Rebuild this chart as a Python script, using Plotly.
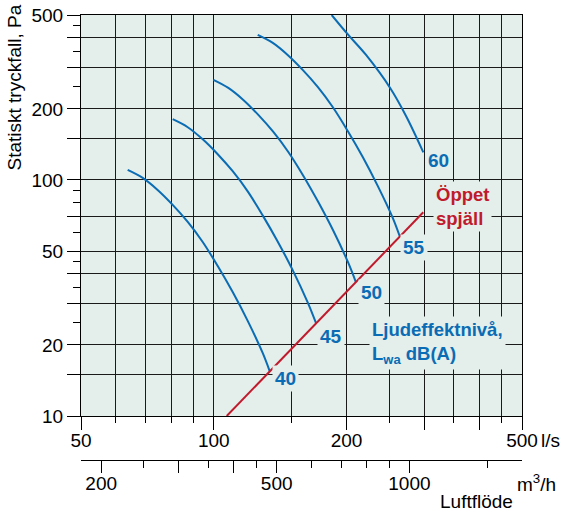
import plotly.graph_objects as go
import math

# ---- data (flow l/s, static pressure Pa) ----
c40_x = [63.8, 69.0, 74.6, 80.7, 87.3, 94.4, 102.1, 110.4, 119.4, 129.1, 133.9]
c40_y = [110.3, 102.0, 90.7, 78.4, 66.4, 54.6, 43.2, 33.5, 25.3, 18.5, 15.5]
c45_x = [80.7, 87.3, 94.4, 102.1, 110.4, 119.4, 129.1, 139.6, 151.0, 163.3, 170.5]
c45_y = [180.9, 167.3, 148.7, 128.6, 108.9, 89.5, 70.8, 54.9, 41.5, 30.3, 24.8]
c50_x = [99.8, 107.9, 116.7, 126.2, 136.5, 147.6, 159.7, 172.6, 186.7, 201.9, 209.9]
c50_y = [265.4, 245.4, 218.3, 188.7, 159.8, 131.4, 104.0, 80.6, 60.9, 44.5, 37.0]
c55_x = [125.8, 136.1, 147.1, 159.1, 172.1, 186.1, 201.3, 217.7, 235.4, 254.6, 264.2]
c55_y = [411.7, 380.8, 338.6, 292.7, 247.9, 203.8, 161.3, 125.1, 94.4, 69.1, 57.6]
c60_x = [185.1, 201.9, 221.5, 251.4, 272.9, 298.7]
c60_y = [500.0, 411.6, 338.5, 244.7, 186.7, 131.0]
open_x = [107.0, 298.6]
open_y = [10.0, 73.0]

curve_names = ["40", "45", "50", "55", "60"]

# axis ticks
x_labeled = [50, 100, 200, 500]
x_labeled_text = ["50", "100", "200", "500"]
x_long_unlabeled = [300, 400]
x_minor = [60, 70, 80, 90, 150, 250, 350, 450]
y_labeled = [10, 20, 50, 100, 200, 500]
y_labeled_text = ["10", "20", "50", "100", "200", "500"]
y_long_unlabeled = [15, 30, 40, 70, 150, 300, 400]
y_minor = [25, 35, 45, 60, 80, 90, 250, 350, 450]
m3h_labeled = [200, 500, 1000]
m3h_labeled_text = ["200", "500", "1000"]
m3h_long_unlabeled = [300, 400]
m3h_minor = [250, 350, 450, 600, 700, 800, 900, 1500]

BLUE = "#0a6cb4"
RED = "#c01a2c"
BG = "#e4eeea"
GRID = "#1a1a1a"
FONT = "Liberation Sans, Arial, sans-serif"

XR = [math.log10(50), math.log10(500)]
YR = [1, math.log10(500)]
MR = [math.log10(180), math.log10(1800)]

fig = go.Figure()
for xs, ys in [(c40_x, c40_y), (c45_x, c45_y), (c50_x, c50_y), (c55_x, c55_y), (c60_x, c60_y)]:
    fig.add_trace(go.Scatter(x=xs, y=ys, mode="lines",
                             line=dict(color=BLUE, width=2, shape="spline", smoothing=1.0),
                             showlegend=False, hoverinfo="skip"))
fig.add_trace(go.Scatter(x=open_x, y=open_y, mode="lines", line=dict(color=RED, width=2),
                         showlegend=False, hoverinfo="skip"))
# invisible traces that activate the helper axes
fig.add_trace(go.Scatter(x=[180, 1800], y=[10, 10], xaxis="x2", yaxis="y", mode="markers",
                         marker=dict(opacity=0), showlegend=False, hoverinfo="skip"))
fig.add_trace(go.Scatter(x=[50, 500], y=[10, 10], xaxis="x3", yaxis="y3", mode="markers",
                         marker=dict(opacity=0), showlegend=False, hoverinfo="skip"))
fig.add_trace(go.Scatter(x=[180, 1800], y=[10, 10], xaxis="x4", yaxis="y", mode="markers",
                         marker=dict(opacity=0), showlegend=False, hoverinfo="skip"))

ydom0 = 44 / 445

common = dict(type="log", zeroline=False, fixedrange=True, automargin=False,
              tickcolor="black", tickwidth=1, ticks="outside")

fig.update_layout(
    width=566, height=515,
    margin=dict(l=81, r=44, t=15, b=55, autoexpand=False),
    paper_bgcolor="white", plot_bgcolor=BG,
    font=dict(family=FONT, size=19, color="black"),
    xaxis=dict(**common, range=XR,
               tickmode="array", tickvals=x_labeled, ticktext=x_labeled_text, ticklen=13,
               ticklabelstandoff=-6,
               showgrid=True, gridcolor=GRID, gridwidth=1,
               showline=True, linecolor="black", linewidth=1, mirror=True,
               minor=dict(tickmode="array", tickvals=x_minor, ticks="outside", ticklen=6,
                          tickcolor="black", showgrid=True, gridcolor=GRID, gridwidth=1)),
    yaxis=dict(**common, range=YR, domain=[ydom0, 1],
               tickmode="array", tickvals=y_labeled, ticktext=y_labeled_text, ticklen=13,
               showgrid=True, gridcolor=GRID, gridwidth=1,
               showline=True, linecolor="black", linewidth=1, mirror=True,
               minor=dict(tickmode="array", tickvals=y_minor, ticks="outside", ticklen=7,
                          tickcolor="black", showgrid=False)),
    xaxis3=dict(**common, range=XR, overlaying="x", anchor="y", side="bottom",
                tickmode="array", tickvals=x_long_unlabeled, ticklen=13, showticklabels=False,
                showgrid=True, gridcolor=GRID, gridwidth=1, showline=False),
    yaxis3=dict(**common, range=YR, overlaying="y", anchor="x", side="left",
                tickmode="array", tickvals=y_long_unlabeled, ticklen=13, showticklabels=False,
                showgrid=True, gridcolor=GRID, gridwidth=1, showline=False),
    xaxis2=dict(**common, range=MR, overlaying="x",
                anchor="free", position=0, side="bottom",
                tickmode="array", tickvals=m3h_labeled, ticktext=m3h_labeled_text, ticklen=12,
                ticklabelstandoff=-6,
                showgrid=False, showline=True, linecolor="black", linewidth=1,
                minor=dict(tickmode="array", tickvals=m3h_minor, ticks="outside", ticklen=7,
                           tickcolor="black", showgrid=False)),
    xaxis4=dict(**common, range=MR, overlaying="x",
                anchor="free", position=0, side="bottom",
                tickmode="array", tickvals=m3h_long_unlabeled, ticklen=12, showticklabels=False,
                showgrid=False, showline=False),
)

ann_font_b = dict(family=FONT, size=19, color=BLUE)
label_pos = [(0.4637, 0.0923), (0.5669, 0.1995), (0.6576, 0.3092), (0.7544, 0.4202), (0.8102, 0.6372)]
for name, (xd, yd) in zip(curve_names, label_pos):
    fig.add_annotation(text="<b>%s</b>" % name, xref="x domain", yref="y domain", x=xd, y=yd,
                       xanchor="center", yanchor="middle", showarrow=False, font=ann_font_b,
                       bgcolor=BG, borderpad=2)

fig.add_annotation(text="<b>Öppet</b><br><b>spjäll</b>", xref="x domain", yref="y domain",
                   x=0.7975, y=0.5212, xanchor="left", yanchor="middle", align="left",
                   showarrow=False, font=dict(family=FONT, size=18.5, color=RED), bgcolor=BG, borderpad=2)
fig.add_annotation(text="<b>Ljudeffektnivå,</b><br><b>L<sub>wa</sub> dB(A)</b>", xref="x domain", yref="y domain",
                   x=0.6537, y=0.182, xanchor="left", yanchor="middle", align="left",
                   showarrow=False, font=dict(family=FONT, size=18.5, color=BLUE), bgcolor=BG, borderpad=2)

# axis texts
fig.add_annotation(text="Statiskt tryckfall, Pa", xref="paper", yref="paper", x=-0.1497, y=0.837,
                   textangle=-90, xanchor="center", yanchor="middle", showarrow=False,
                   font=dict(family=FONT, size=19, color="black"))
fig.add_annotation(text="l/s", xref="paper", yref="paper", x=1.0635, y=0.0427,
                   xanchor="center", yanchor="middle", showarrow=False,
                   font=dict(family=FONT, size=19, color="black"))
fig.add_annotation(text="m<sup>3</sup>/h", xref="paper", yref="paper", x=1.034, y=-0.0528,
                   xanchor="center", yanchor="middle", showarrow=False,
                   font=dict(family=FONT, size=19, color="black"))
fig.add_annotation(text="Luftflöde", xref="paper", yref="paper", x=0.8968, y=-0.0933,
                   xanchor="center", yanchor="middle", showarrow=False,
                   font=dict(family=FONT, size=19, color="black"))

fig.write_html("out.html", config={"displayModeBar": False},
               post_script="document.body.style.margin='0';")
